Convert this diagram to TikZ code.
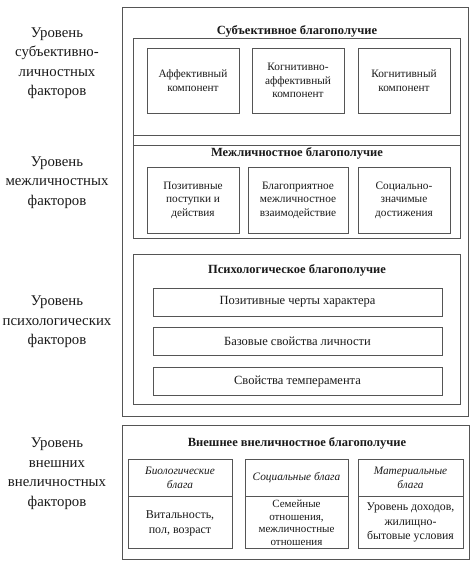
\documentclass[tikz,border=0pt]{standalone}
\usepackage{fontspec}
\setmainfont{Liberation Serif}
\usepackage{xcolor}
\definecolor{schemeLine}{HTML}{555555}
\definecolor{schemeText}{HTML}{1A1A1A}
\usepackage{tikz}
\usetikzlibrary{positioning,calc}
\tikzset{
    frame/.style={
        draw=schemeLine,
        rectangle,
        line width=0.9pt,
        inner sep=0pt
    },
    part/.style={
        draw=schemeLine,
        fill=white,
        rectangle,
        line width=0.9pt,
        align=center,
        inner sep=2pt,
        text=schemeText,
        font=\fontsize{11.3}{13.5}\selectfont
    },
    caption/.style={
        font=\fontsize{12.5}{14}\selectfont\bfseries,
        text=schemeText,
        inner sep=1pt
    },
    level/.style={
        align=center,
        text=schemeText,
        font=\fontsize{14.8}{19.5}\selectfont
    }
}

\begin{document}
\begin{tikzpicture}[x=1pt,y=-1pt]
    \useasboundingbox (0,0) rectangle (474,566);

    \node[level] (lvlSubj) at (57,63) {Уровень\\субъективно-\\личностных\\факторов};
    \node[level] (lvlInter) at (57,182.5) {Уровень\\межличностных\\факторов};
    \node[level] (lvlPsych) at (57,322) {Уровень\\психологических\\факторов};
    \node[level] (lvlExt) at (57,473.5) {Уровень\\внешних\\внеличностных\\факторов};

    \node[frame, minimum width=346pt, minimum height=409pt] (inner) at (295,211.5) {};
    \node[frame, minimum width=327pt, minimum height=107pt] (subj) at (296.5,91.5) {};
    \node[frame, minimum width=327pt, minimum height=103pt] (inter) at (296.5,186.5) {};
    \node[frame, minimum width=327pt, minimum height=150pt] (psych) at (296.5,329) {};
    \node[frame, minimum width=347pt, minimum height=134pt] (ext) at (295.5,492) {};

    \node[caption] (subjTitle) at (297,31) {Субъективное благополучие};
    \node[caption] (interTitle) at (297,153) {Межличностное благополучие};
    \node[caption] (psychTitle) at (297,270) {Психологическое благополучие};
    \node[caption] (extTitle) at (297,443) {Внешнее внеличностное благополучие};

    \node[part, minimum width=92pt, minimum height=65pt] (affect) at (193,80.5) {Аффективный\\компонент};
    \node[part, minimum width=92pt, minimum height=65pt] (cogAff) at (298,80.5) {Когнитивно-\\аффективный\\компонент};
    \node[part, minimum width=92pt, minimum height=65pt] (cogn) at (404,80.5) {Когнитивный\\компонент};

    \node[part, minimum width=92pt, minimum height=66pt] (deeds) at (193,200) {Позитивные\\поступки и\\действия};
    \node[part, minimum width=100pt, minimum height=66pt] (contact) at (298,200) {Благоприятное\\межличностное\\взаимодействие};
    \node[part, minimum width=92pt, minimum height=66pt] (success) at (404,200) {Социально-\\значимые\\достижения};

    \node[part, minimum width=289pt, minimum height=28pt, font=\fontsize{12.5}{14}\selectfont] (traits) at (297.5,302) {Позитивные черты характера};
    \node[part, minimum width=289pt, minimum height=28pt, font=\fontsize{12.5}{14}\selectfont] (basic) at (297.5,341) {Базовые свойства личности};
    \node[part, minimum width=289pt, minimum height=28pt, font=\fontsize{12.5}{14}\selectfont] (temper) at (297.5,381.5) {Свойства темперамента};

    \node[part, minimum width=104pt, minimum height=37pt, font=\fontsize{11.3}{14}\selectfont\itshape] (bioHead) at (180,477.5) {Биологические\\блага};
    \node[part, minimum width=104pt, minimum height=52pt, below=0pt of bioHead, font=\fontsize{12}{15}\selectfont] (bioBody) {Витальность,\\пол, возраст};
    \node[part, minimum width=103pt, minimum height=37pt, font=\fontsize{11.3}{14}\selectfont\itshape] (socHead) at (296.5,477.5) {Социальные блага};
    \node[part, minimum width=103pt, minimum height=52pt, below=0pt of socHead, font=\fontsize{11}{12.5}\selectfont] (socBody) {Семейные\\отношения,\\межличностные\\отношения};
    \node[part, minimum width=105pt, minimum height=37pt, font=\fontsize{11.3}{14}\selectfont\itshape] (matHead) at (410.5,477.5) {Материальные\\блага};
    \node[part, minimum width=105pt, minimum height=52pt, below=0pt of matHead, font=\fontsize{11.8}{14.5}\selectfont] (matBody) {Уровень доходов,\\жилищно-\\бытовые условия};
\end{tikzpicture}
\end{document}
